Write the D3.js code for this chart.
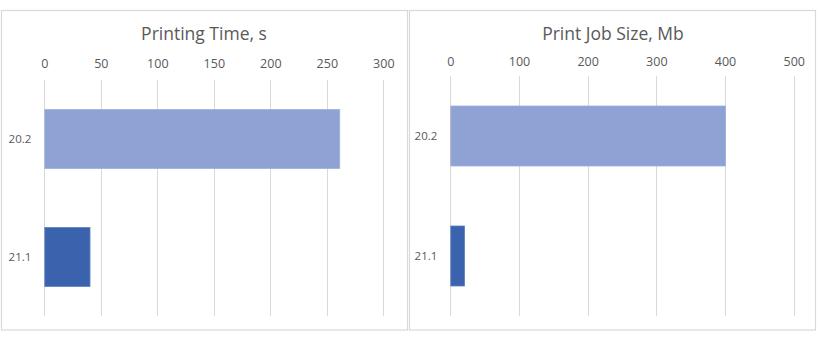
<!DOCTYPE html>
<html>
<head>
<meta charset="utf-8">
<script src="https://cdn.jsdelivr.net/npm/d3@7"></script>
<style>
html,body{margin:0;padding:0;background:#fff;}
svg{display:block;}
</style>
</head>
<body>
<svg id="chart" width="818" height="341"></svg>
<script>
const categories = ["20.2", "21.1"];
const timeValues = [261, 40];
const sizeValues = [400, 20];
const timeTicks = [0, 50, 100, 150, 200, 250, 300];
const sizeTicks = [0, 100, 200, 300, 400, 500];
const barColors = ["#8FA2D4", "#3B63AD"];
const barStroke = ["#9FB0DB", "#5B7EC2"];

const svg = d3.select("#chart");
const font = "'Open Sans', 'Noto Sans', sans-serif";

const panels = [
  {title: "Printing Time, s", values: timeValues, ticks: timeTicks, max: 300,
   box: [1, 10.5, 408, 330], x0: 44.3, x1: 383.3, y0: 80, y1: 316, titleX: 204, tickY: 63},
  {title: "Print Job Size, Mb", values: sizeValues, ticks: sizeTicks, max: 500,
   box: [409, 10.5, 816, 330], x0: 450.3, x1: 793.7, y0: 76, y1: 316, titleX: 613, tickY: 61}
];

panels.forEach(p => {
  const g = svg.append("g");
  g.append("rect")
    .attr("x", p.box[0] + 0.5).attr("y", p.box[1])
    .attr("width", p.box[2] - p.box[0] - 1).attr("height", p.box[3] - p.box[1])
    .attr("fill", "#fff").attr("stroke", "#D9D9D9").attr("stroke-width", 1.2);

  g.append("text")
    .attr("x", p.titleX).attr("y", 39.5)
    .attr("text-anchor", "middle")
    .attr("font-family", font).attr("font-size", 17.5)
    .attr("fill", "#595959")
    .text(p.title);

  const x = d3.scaleLinear().domain([0, p.max]).range([p.x0, p.x1]);
  const y = d3.scaleBand().domain(categories).range([p.y0, p.y1]).paddingInner(0.5).paddingOuter(0.25);

  g.append("g").selectAll("line").data(p.ticks).join("line")
    .attr("x1", d => Math.round(x(d)) + 0.5).attr("x2", d => Math.round(x(d)) + 0.5)
    .attr("y1", p.y0).attr("y2", p.y1)
    .attr("stroke", "#D9D9D9").attr("stroke-width", 1);

  const ax = d3.axisTop(x).tickValues(p.ticks).tickSize(0).tickPadding(0);
  const axg = g.append("g").attr("transform", `translate(0,${p.tickY + 4.5})`).call(ax);
  axg.select(".domain").remove();
  axg.selectAll("text").attr("font-family", font).attr("font-size", 12.5).attr("fill", "#595959");

  g.append("g").selectAll("rect").data(p.values).join("rect")
    .attr("x", x(0) + 0.5)
    .attr("y", (d, i) => y(categories[i]))
    .attr("width", d => x(d) - x(0))
    .attr("height", y.bandwidth())
    .attr("fill", (d, i) => barColors[i])
    .attr("stroke", (d, i) => barStroke[i])
    .attr("stroke-width", 0.8);

  const ay = d3.axisLeft(y).tickSize(0).tickPadding(0);
  const ayg = g.append("g").attr("transform", `translate(${p.x0 - 13},0)`).call(ay);
  ayg.select(".domain").remove();
  ayg.selectAll("text").attr("font-family", font).attr("font-size", 11.5).attr("fill", "#595959");
});
</script>
</body>
</html>
